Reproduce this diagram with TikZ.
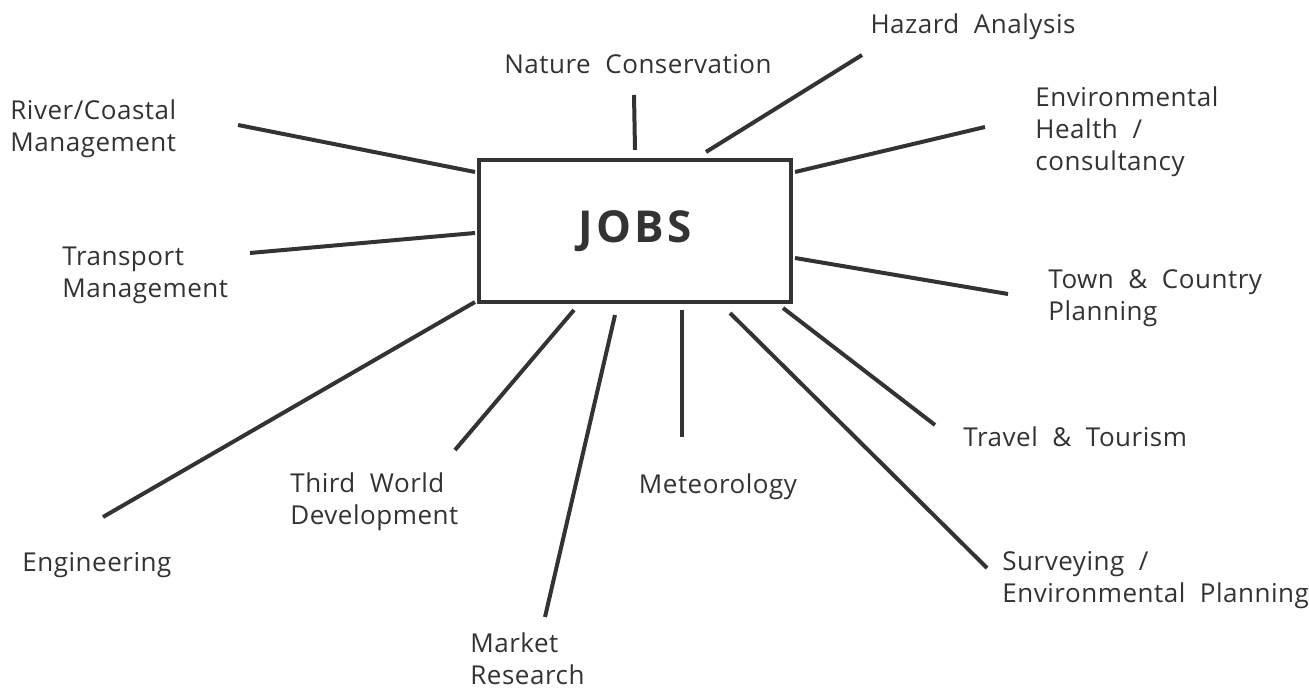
\documentclass[tikz,border=0pt]{standalone}
\usepackage{fontspec}
\setmainfont{Open Sans}
\begin{document}
\begin{tikzpicture}[x=0.5pt,y=-0.5pt,
  lbl/.style={font=\fontsize{13}{16}\selectfont\addfontfeature{LetterSpace=2}, text=black!80, inner sep=0pt, align=left},
  spoke/.style={line width=2pt, draw=black!80},
  box/.style={draw=black!80, line width=2.2pt, minimum width=156pt, minimum height=71pt, inner sep=0pt}]
\useasboundingbox (0,0) rectangle (1309,688);
\node[box, font=\fontsize{22}{24}\selectfont\bfseries\addfontfeature{LetterSpace=8}, text=black!80] (jobs) at (635,231) {JOBS};
% labels
\node[lbl, anchor=center] (nat) at (638,64) {Nature~~Conservation};
\node[lbl, anchor=center] (haz) at (973,27) {Hazard~~Analysis};
\node[lbl, anchor=west] (env) at (1035,132) {Environmental\\Health~~/\\consultancy};
\node[lbl, anchor=west] (town) at (1048,298) {Town~~\&~~Country\\Planning};
\node[lbl, anchor=west] (trav) at (963,437) {Travel~~\&~~Tourism};
\node[lbl, anchor=west] (surv) at (1002,580) {Surveying~~/\\Environmental~~Planning};
\node[lbl, anchor=center] (met) at (718,487) {Meteorology};
\node[lbl, anchor=west] (mkt) at (470,659) {Market\\Research};
\node[lbl, anchor=west] (third) at (290,502) {Third~~World\\Development};
\node[lbl, anchor=west] (eng) at (22,565) {Engineering};
\node[lbl, anchor=west] (trans) at (62,275) {Transport\\Management};
\node[lbl, anchor=west] (riv) at (10,129) {River/Coastal\\Management};
% spoke ends
\coordinate (eNat) at (634,95);
\coordinate (eHaz) at (862,55);
\coordinate (eEnv) at (985,127);
\coordinate (eTown) at (1008,294);
\coordinate (eTrav) at (935,425);
\coordinate (eSurv) at (987,568);
\coordinate (eMet) at (682,437);
\coordinate (eMkt) at (545,617);
\coordinate (eThird) at (455,450);
\coordinate (eEng) at (103,517);
\coordinate (eTrans) at (250,253);
\coordinate (eRiv) at (238,125);
% spokes
\draw[spoke] (jobs.north) ++(0,-8) -- (eNat);
\draw[spoke] (706,152) -- (eHaz);
\draw[spoke] (795,172) -- (eEnv);
\draw[spoke] (795,258) -- (eTown);
\draw[spoke] (783,308) -- (eTrav);
\draw[spoke] (730,313) -- (eSurv);
\draw[spoke] (682,310) -- (eMet);
\draw[spoke] (615,315) -- (eMkt);
\draw[spoke] (574,310) -- (eThird);
\draw[spoke] (475,302) -- (eEng);
\draw[spoke] (475,233) -- (eTrans);
\draw[spoke] (475,172) -- (eRiv);
\end{tikzpicture}
\end{document}
